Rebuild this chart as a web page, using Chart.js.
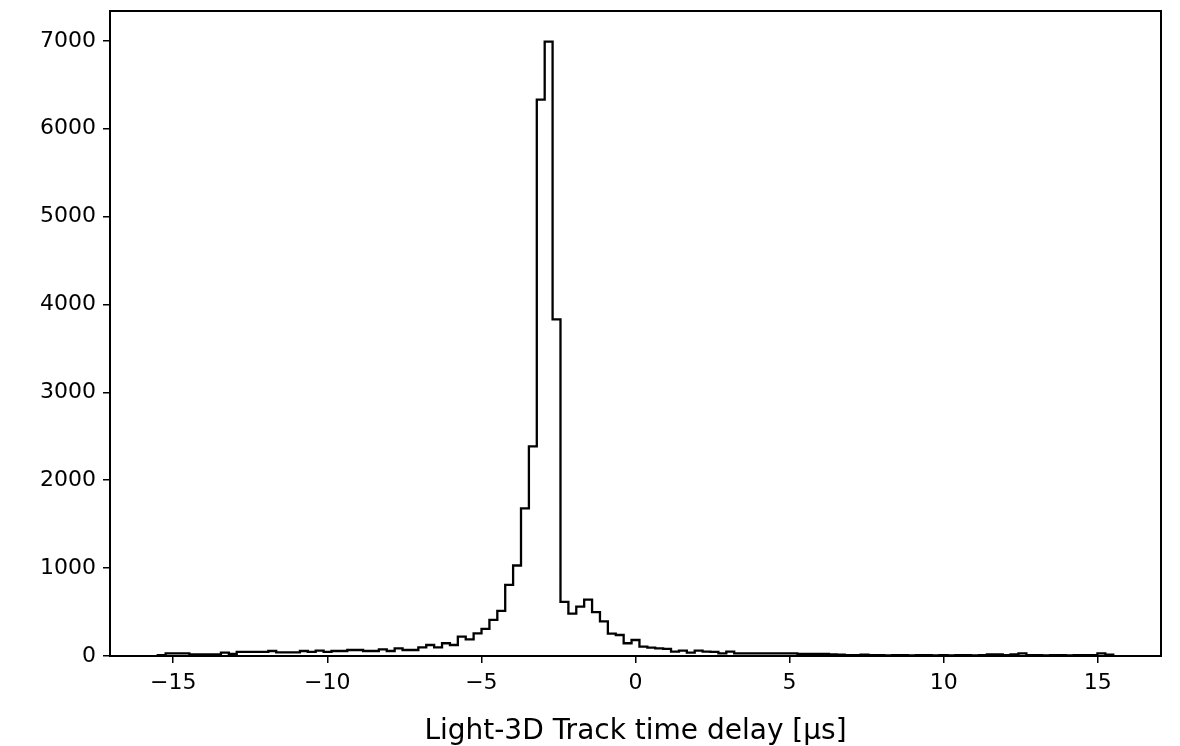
<!DOCTYPE html>
<html>
<head>
<meta charset="utf-8">
<script src="https://cdn.jsdelivr.net/npm/chart.js@4.4.0/dist/chart.umd.min.js"></script>
<style>
  html, body { margin: 0; padding: 0; background: #fff; }
  #wrap { width: 1180px; height: 746px; }
</style>
</head>
<body>
<div id="wrap"><canvas id="hist"></canvas></div>
<script>
// histogram range and counts per bin
const binLo = -15.5
const binHi = 15.5
const counts = [
    11, 30, 30, 30, 19, 19, 19, 19, 38, 23,
    46, 46, 46, 46, 57, 42, 42, 42, 57, 46,
    61, 46, 57, 57, 68, 68, 57, 57, 76, 57,
    87, 68, 68, 99, 125, 99, 145, 125, 220, 190,
    258, 308, 410, 513, 809, 1030, 1680, 2385, 6330, 6990,
    3830, 615, 482, 562, 642, 500, 395, 255, 239, 145,
    182, 106, 95, 87, 80, 49, 61, 38, 61, 49,
    46, 30, 49, 30, 30, 30, 30, 30, 30, 30,
    30, 23, 23, 23, 23, 19, 15, 11, 11, 15,
    11, 11, 8, 11, 11, 8, 11, 11, 8, 11,
    8, 11, 11, 8, 11, 19, 19, 11, 19, 30,
    11, 11, 8, 11, 11, 8, 11, 11, 11, 30,
    15
]
const xTicks = [-15, -10, -5, 0, 5, 10, 15]
const yTicks = [0, 1000, 2000, 3000, 4000, 5000, 6000, 7000]
const xLabel = 'Light-3D Track time delay [\u03bcs]'

// step outline like matplotlib histtype='step'
const width = (binHi - binLo) / counts.length
let outline = [{ x: binLo, y: 0 }]
for (let i = 0; i < counts.length; i++) {
    let left = binLo + i * width
    outline.push({ x: left, y: counts[i] })
    outline.push({ x: left + width, y: counts[i] })
}
outline.push({ x: binHi, y: 0 })

const span = binHi - binLo
const xMin = binLo - 0.05 * span
const xMax = binHi + 0.05 * span
const yMax = Math.max(...counts) * 1.05

const FONT = { family: 'DejaVu Sans', size: 22 }

const frame = {
    id: 'frame',
    afterDraw(chart) {
        const a = chart.chartArea
        const ctx = chart.ctx
        ctx.save()
        ctx.strokeStyle = '#000'
        ctx.lineWidth = 2
        ctx.strokeRect(a.left, a.top, a.right - a.left, a.bottom - a.top)
        ctx.restore()
    }
}

document.addEventListener("DOMContentLoaded", function (event) {
    const HIST = document.getElementById('hist')
    new Chart(HIST, {
        type: 'line',
        data: {
            datasets: [{
                data: outline,
                borderColor: '#000',
                borderWidth: 2.3,
                pointRadius: 0,
                fill: false,
                tension: 0
            }]
        },
        options: {
            responsive: true,
            maintainAspectRatio: false,
            animation: false,
            layout: { padding: { left: 0, right: 19, top: 11, bottom: 0 } },
            plugins: {
                legend: { display: false },
                tooltip: { enabled: false }
            },
            scales: {
                x: {
                    type: 'linear',
                    min: xMin,
                    max: xMax,
                    afterBuildTicks: (scale) => { scale.ticks = xTicks.map(v => ({ value: v })) },
                    afterFit: (scale) => {
                        scale.height = 90
                        scale.paddingLeft = 0
                        scale.paddingRight = 0
                    },
                    border: { display: false },
                    grid: { drawOnChartArea: false, drawTicks: true, tickLength: 7, color: '#000', lineWidth: 1.5 },
                    ticks: {
                        color: '#000',
                        font: FONT,
                        padding: 7,
                        maxRotation: 0,
                        callback: (v) => (v < 0 ? '\u2212' + Math.abs(v) : String(v))
                    },
                    title: {
                        display: true,
                        text: xLabel,
                        color: '#000',
                        font: { family: 'DejaVu Sans', size: 28 },
                        padding: { top: 0, bottom: -3 }
                    }
                },
                y: {
                    min: 0,
                    max: yMax,
                    afterBuildTicks: (scale) => { scale.ticks = yTicks.map(v => ({ value: v })) },
                    afterFit: (scale) => {
                        scale.width = 110
                        scale.paddingTop = 0
                        scale.paddingBottom = 0
                    },
                    border: { display: false },
                    grid: { drawOnChartArea: false, drawTicks: true, tickLength: 7, color: '#000', lineWidth: 1.5 },
                    ticks: { color: '#000', font: FONT, padding: 7, callback: (v) => String(v) }
                }
            }
        },
        plugins: [frame]
    })
})
</script>
</body>
</html>
